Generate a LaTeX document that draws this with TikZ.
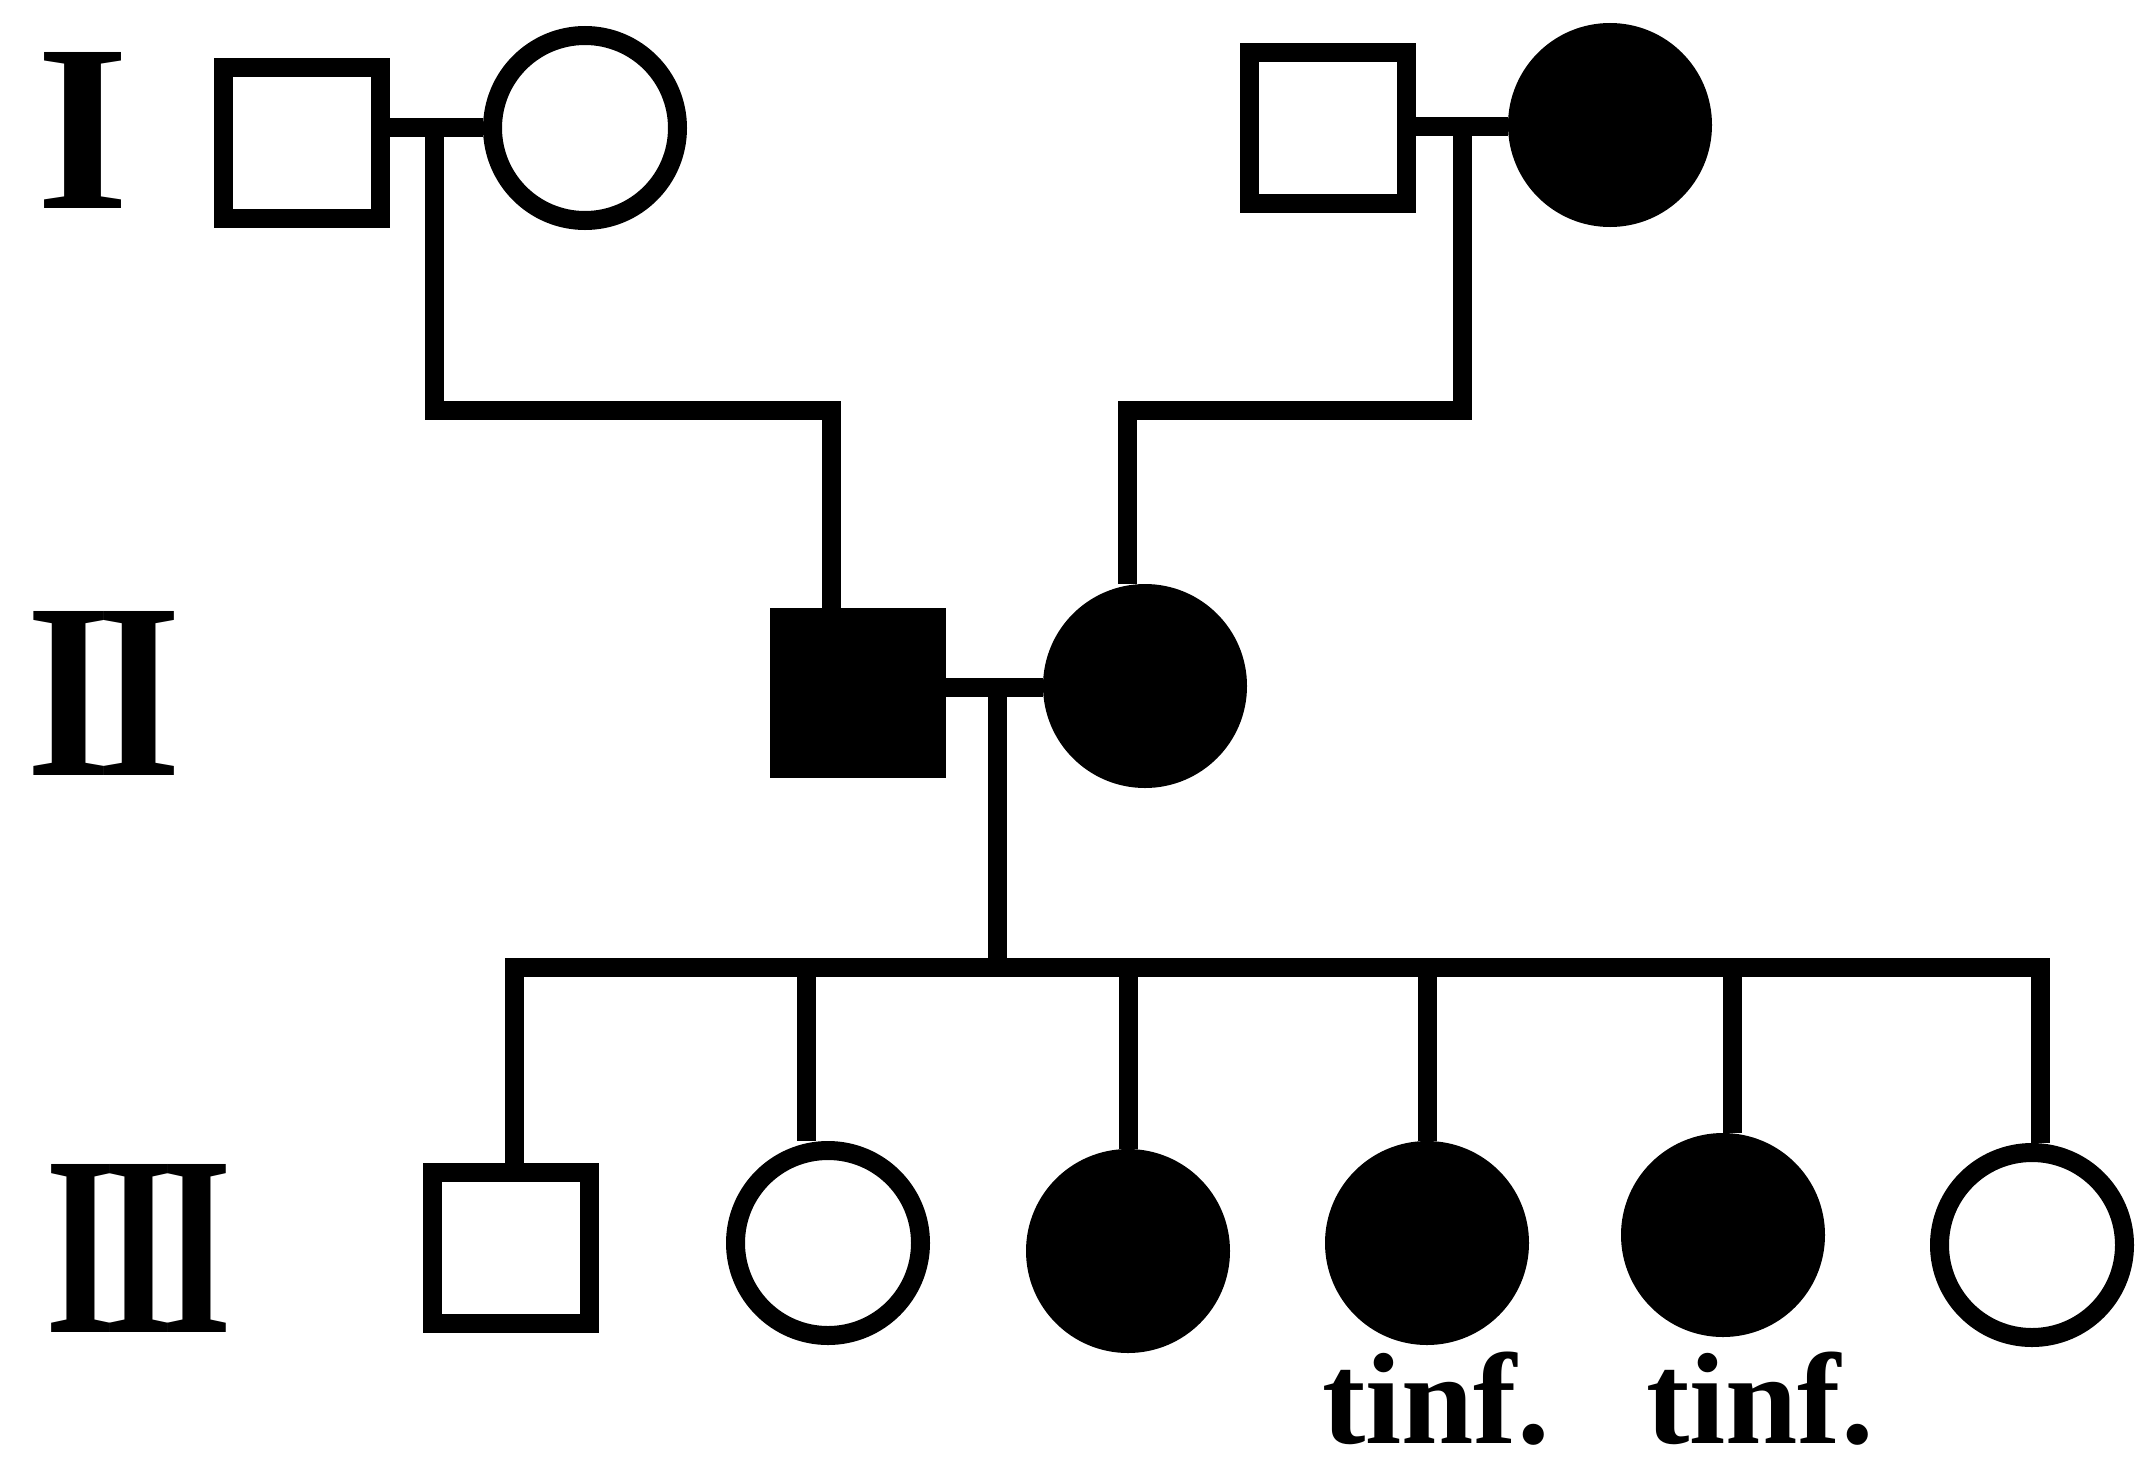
\documentclass[tikz,border=0pt]{standalone}
\usepackage{fontspec}
\setmainfont{Liberation Serif}
\usepackage{graphicx}
\begin{document}
\begin{tikzpicture}[x=1pt,y=-1pt,
  male/.style={draw, line width=19pt, rectangle, minimum width=157pt, minimum height=151pt, inner sep=0pt},
  female/.style={draw, line width=19pt, circle, minimum size=185pt, inner sep=0pt},
  aff/.style={fill=black},
  gen/.style={inner sep=0pt},
  note/.style={inner sep=0pt, anchor=base, font=\fontsize{130}{130}\selectfont\bfseries},
  conn/.style={draw=black, line width=19pt, line join=miter}]
\useasboundingbox (0,0) rectangle (2142,1459);

% generation I
\node[male]   (sq1) at (302,143)  {};
\node[female] (c2)  at (585,128)  {};
\node[male]   (sq3) at (1328,128) {};
\node[female,aff] (c4) at (1610,125) {};

% generation II
\node[male,aff]   (sqII1) at (858,693)  {};
\node[female,aff] (cII2)  at (1145,686) {};

% generation III
\node[male]       (k1) at (511,1248)  {};
\node[female]     (k2) at (828,1243)  {};
\node[female,aff] (k3) at (1128,1251) {};
\node[female,aff] (k4) at (1427,1243) {};
\node[female,aff] (k5) at (1723,1235) {};
\node[female]     (k6) at (2032,1245) {};

% junction points
\coordinate (m1) at (434,127);
\coordinate (j1) at (434,410);
\coordinate (j2) at (831,410);
\coordinate (m2) at (1462,126);
\coordinate (j3) at (1462,410);
\coordinate (j4) at (1127,410);
\coordinate (m3) at (997,687);
\coordinate (s0) at (997,967);
\coordinate (s1) at (514,967);
\coordinate (s2) at (2040,967);

% connectors
\path[conn] (m1 -| sq1.east) -- (m1 -| c2.west);
\path[conn] (m1) -- (j1) -- (j2) -- (j2 |- sqII1.north);
\path[conn] (m2 -| sq3.east) -- (m2 -| c4.west);
\path[conn] (m2) -- (j3) -- (j4) -- (j4 |- cII2.north);
\path[conn] (m3 -| sqII1.east) -- (m3 -| cII2.west);
\path[conn] (m3) -- (s0);
\path[conn] (s1 |- k1.north) -- (s1) -- (s2) -- (s2 |- k6.north);
\path[conn] ([xshift=-22pt]k2.north |- s0) -- ([xshift=-22pt]k2.north);
\path[conn] (k3.north |- s0) -- (k3.north);
\path[conn] (k4.north |- s0) -- (k4.north);
\path[conn] ([xshift=9pt]k5.north |- s0) -- ([xshift=9pt]k5.north);

% labels
\node[gen] (gI)   at (83,130)   {\resizebox{93pt}{156pt}{\bfseries I}};
\node[gen] (gII)  at (104,693)  {\resizebox{155pt}{164pt}{\bfseries I\kern-0.07em I}};
\node[gen] (gIII) at (139,1248) {\resizebox{187pt}{168pt}{\bfseries I\kern-0.07em I\kern-0.07em I}};
\node[note] (t1) at (1436,1443) {tinf.};
\node[note] (t2) at (1760,1443) {tinf.};
\end{tikzpicture}
\end{document}
